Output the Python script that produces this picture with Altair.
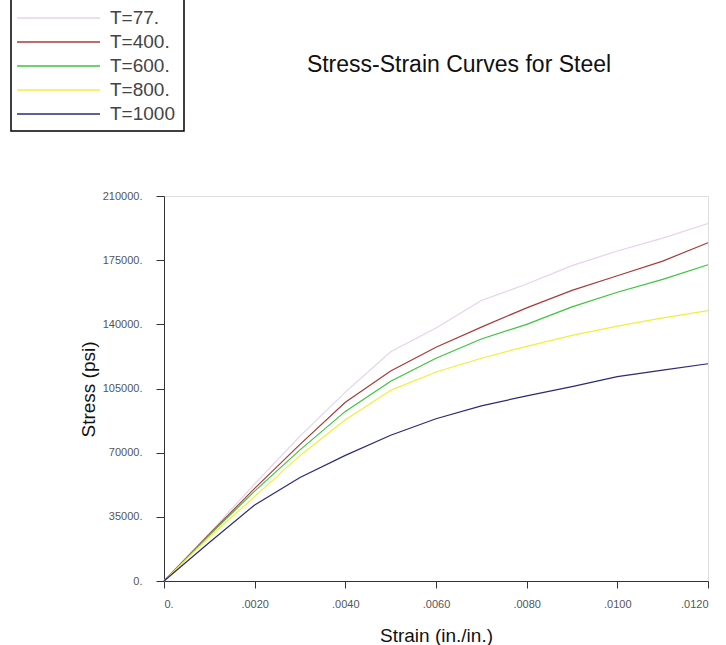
import altair as alt
import pandas as pd

# Strain values (in./in.) shared by every curve
strain = [0.0, 0.001, 0.002, 0.003, 0.004, 0.005, 0.006, 0.007, 0.008, 0.009, 0.010, 0.011, 0.012]

# Stress (psi) for each test temperature
stress_77 = [0, 26000, 53000, 79000, 103000, 125000, 138000, 153000, 162000, 172000, 180000, 187000, 195000]
stress_400 = [0, 25500, 50500, 74500, 97500, 114500, 127500, 138500, 149000, 158500, 166500, 174500, 184500]
stress_600 = [0, 25000, 49000, 71500, 92500, 109000, 121500, 132000, 140000, 149500, 157500, 164500, 172500]
stress_800 = [0, 24000, 46000, 68500, 88000, 104000, 114000, 121500, 128000, 134000, 139000, 143500, 147500]
stress_1000 = [0, 21000, 41500, 56500, 68500, 79500, 88500, 95500, 101000, 106000, 111500, 115000, 118500]

series_labels = ["T=77.", "T=400.", "T=600.", "T=800.", "T=1000"]
series_colors = ["#e6d2ea", "#a83a3a", "#3cc43c", "#f2ee3a", "#2a2a78"]
series_values = [stress_77, stress_400, stress_600, stress_800, stress_1000]

chart_title = "Stress-Strain Curves for Steel"
y_ticks = [0, 35000, 70000, 105000, 140000, 175000, 210000]
x_ticks = [0.0, 0.002, 0.004, 0.006, 0.008, 0.010, 0.012]

rows = []
for label, values in zip(series_labels, series_values):
    for s, v in zip(strain, values):
        rows.append({"series": label, "strain": s, "stress": v})
curves = pd.DataFrame(rows)

legend_df = pd.DataFrame({"series": series_labels, "row": list(range(len(series_labels)))})

color_scale = alt.Scale(domain=series_labels, range=series_colors)
FONT = "Liberation Sans"

lines = alt.Chart(curves).mark_line(strokeWidth=1.2).encode(
    x=alt.X(
        "strain:Q",
        scale=alt.Scale(domain=[0, 0.012], nice=False),
        axis=alt.Axis(
            values=x_ticks,
            labelExpr="datum.value == 0 ? '0.' : slice(format(datum.value, '.4f'), 1)",
            title="Strain (in./in.)",
            titleFontSize=19,
            titleFontWeight="normal",
            titleFont=FONT,
            titleColor="#111",
            titleY=54,
            titleBaseline="middle",
            labelFont=FONT,
            labelFontSize=11,
            labelColor="#555",
            labelPadding=10,
            tickSize=7,
            tickColor="#333",
            domainColor="#333",
            grid=False,
        ),
    ),
    y=alt.Y(
        "stress:Q",
        scale=alt.Scale(domain=[0, 210000], nice=False),
        axis=alt.Axis(
            values=y_ticks,
            labelExpr="format(datum.value, 'd') + '.'",
            title="Stress (psi)",
            titleFontSize=19,
            titleFontWeight="normal",
            titleFont=FONT,
            titleColor="#111",
            titleX=-76,
            titleY=193,
            titleAlign="center",
            titleBaseline="middle",
            labelFont=FONT,
            labelFontSize=11,
            labelColor="#555",
            labelPadding=14,
            tickSize=8,
            tickColor="#333",
            domainColor="#333",
            grid=False,
        ),
    ),
    color=alt.Color("series:N", scale=color_scale, legend=None),
    detail="series:N",
)

legend_y = alt.Y("row:O", scale=alt.Scale(type="point", range=[-178, -82], padding=0), axis=None)

legend_box = alt.Chart(legend_df).mark_rect(
    fill="white", stroke="black", strokeWidth=1.5
).encode(
    x=alt.value(-153), x2=alt.value(20), y=alt.value(-205), y2=alt.value(-65)
).transform_filter("datum.row == 0")

legend_lines = alt.Chart(legend_df).mark_rule(strokeWidth=1.5).encode(
    x=alt.value(-147),
    x2=alt.value(-64),
    y=legend_y,
    color=alt.Color("series:N", scale=color_scale, legend=None),
)

legend_text = alt.Chart(legend_df).mark_text(
    align="left", baseline="middle", font=FONT, fontSize=19, color="#444"
).encode(
    x=alt.value(-54),
    y=legend_y,
    text="series:N",
)

# Chart heading, drawn once above the plot
heading = alt.Chart(legend_df).mark_text(
    align="center", baseline="alphabetic", font=FONT, fontSize=23, color="#111"
).encode(
    x=alt.value(295),
    y=alt.value(-124),
    text=alt.value(chart_title),
).transform_filter("datum.row == 0")

legend = alt.layer(legend_box, legend_lines, legend_text, heading)

chart = (
    alt.layer(lines, legend)
    .resolve_scale(y="independent")
    .properties(
        width=544,
        height=385,
        autosize=alt.AutoSizeParams(type="none"),
        padding={"left": 164, "top": 196, "right": 18, "bottom": 64},
    )
    .configure_view(stroke=None)
    .configure(background="white")
)

chart.save("out.html", embed_options={"renderer": "svg", "actions": False})
